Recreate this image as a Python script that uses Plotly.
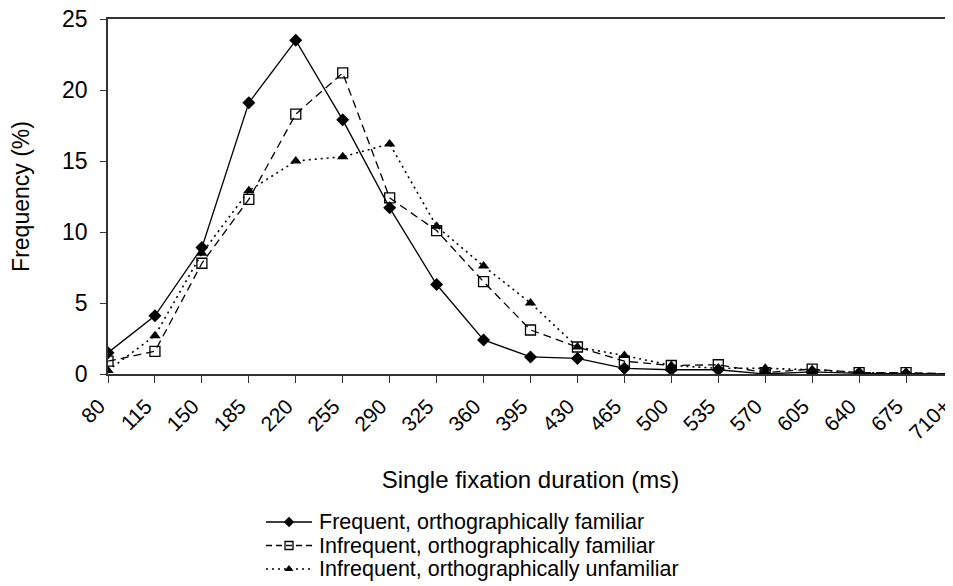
import plotly.graph_objects as go

categories = ["80", "115", "150", "185", "220", "255", "290", "325", "360", "395",
              "430", "465", "500", "535", "570", "605", "640", "675", "710+"]

frequent_familiar = [1.5, 4.1, 8.9, 19.1, 23.5, 17.9, 11.7, 6.3, 2.4, 1.2,
                     1.1, 0.4, 0.3, 0.3, 0.0, 0.15, 0.05, 0.0, 0.0]
infrequent_familiar = [0.9, 1.6, 7.8, 12.3, 18.3, 21.2, 12.4, 10.1, 6.5, 3.1,
                       1.9, 0.9, 0.6, 0.65, 0.1, 0.35, 0.1, 0.1, 0.0]
infrequent_unfamiliar = [0.25, 2.7, 8.5, 12.9, 15.0, 15.3, 16.2, 10.4, 7.6, 5.0,
                         1.9, 1.3, 0.6, 0.4, 0.4, 0.3, 0.1, 0.05, 0.0]

series_names = ["Frequent, orthographically familiar",
                "Infrequent, orthographically familiar",
                "Infrequent, orthographically unfamiliar"]

# The page body has an 8px default margin, so the figure is sized to fit the window.
OFF = 8
W, H = 953 - OFF, 586 - OFF
font_family = "Liberation Sans, Arial, sans-serif"

styles = [
    dict(line=dict(color="black", width=1.3, dash="solid"),
         marker=dict(symbol="diamond", size=10, color="black")),
    dict(line=dict(color="black", width=1.3, dash="8px,5px"),
         marker=dict(symbol="square-open", size=10, color="black", line=dict(width=1.3))),
    dict(line=dict(color="black", width=1.6, dash="2px,4px"),
         marker=dict(symbol="triangle-up", size=10, color="black")),
]
legend_dashes = ["solid", "6px,4px", "2px,4px"]

x_idx = list(range(len(categories)))
fig = go.Figure()
for name, vals, st in zip(series_names,
                          [frequent_familiar, infrequent_familiar, infrequent_unfamiliar],
                          styles):
    fig.add_trace(go.Scatter(x=x_idx, y=vals, mode="lines+markers", name=name,
                             showlegend=False, xaxis="x", yaxis="y", **st))

# Hand-drawn legend (compact row spacing like the original) on a full-figure overlay axis
leg_rows_px = [y - OFF for y in (522, 545.5, 569)]
leg_line_x = [266 - OFF, 312 - OFF]
leg_text_x = 317 - OFF
for name, st, dash, ypx in zip(series_names, styles, legend_dashes, leg_rows_px):
    fig.add_trace(go.Scatter(x=leg_line_x, y=[ypx, ypx], mode="lines",
                             line=dict(color="black", width=1.3, dash=dash),
                             showlegend=False, hoverinfo="skip", xaxis="x2", yaxis="y2"))
    fig.add_trace(go.Scatter(x=[sum(leg_line_x) / 2], y=[ypx], mode="markers",
                             marker=dict(st["marker"], size=8),
                             showlegend=False, hoverinfo="skip", xaxis="x2", yaxis="y2"))
    fig.add_annotation(text=name, x=leg_text_x / W, y=1 - ypx / H, xref="paper", yref="paper",
                       xanchor="left", yanchor="middle", showarrow=False,
                       font=dict(size=21.5, color="black", family=font_family))

plot_left, plot_right, plot_top, plot_bottom = 108 - OFF, 953 - OFF, 19 - OFF, 374 - OFF

fig.update_layout(
    width=W, height=H,
    margin=dict(l=0, r=0, t=0, b=0, autoexpand=False),
    paper_bgcolor="white", plot_bgcolor="rgba(0,0,0,0)",
    font=dict(family=font_family, size=22, color="black"),
    showlegend=False,
    xaxis=dict(
        domain=[plot_left / W, plot_right / W], anchor="y", automargin=False,
        range=[0, 18], tickmode="array", tickvals=x_idx, ticktext=categories,
        tickangle=-45, ticks="outside", ticklen=7, tickcolor="#333", tickwidth=1.3,
        ticklabeloverflow="allow", ticklabelshift=-9, ticklabelstandoff=3,
        showgrid=False, zeroline=False, showline=True, linecolor="#333", linewidth=1.5,
        mirror=True,
        title=dict(text="Single fixation duration (ms)", font=dict(size=24), standoff=28),
        tickfont=dict(size=21),
    ),
    yaxis=dict(
        domain=[1 - plot_bottom / H, 1 - plot_top / H], anchor="x", automargin=False,
        range=[0, 25], tickvals=[0, 5, 10, 15, 20, 25],
        ticks="outside", ticklen=6, tickcolor="#333", tickwidth=1.3,
        ticklabeloverflow="allow",
        showgrid=False, zeroline=False, showline=True,
        linecolor="#333", linewidth=1.5, ticklabelstandoff=8,
        title=dict(text="Frequency (%)", font=dict(size=23), standoff=28),
        tickfont=dict(size=23),
    ),
    xaxis2=dict(domain=[0, 1], range=[0, W], visible=False, anchor="y2", fixedrange=True),
    yaxis2=dict(domain=[0, 1], range=[H, 0], visible=False, anchor="x2", fixedrange=True),
)

fig.write_html("out.html")
